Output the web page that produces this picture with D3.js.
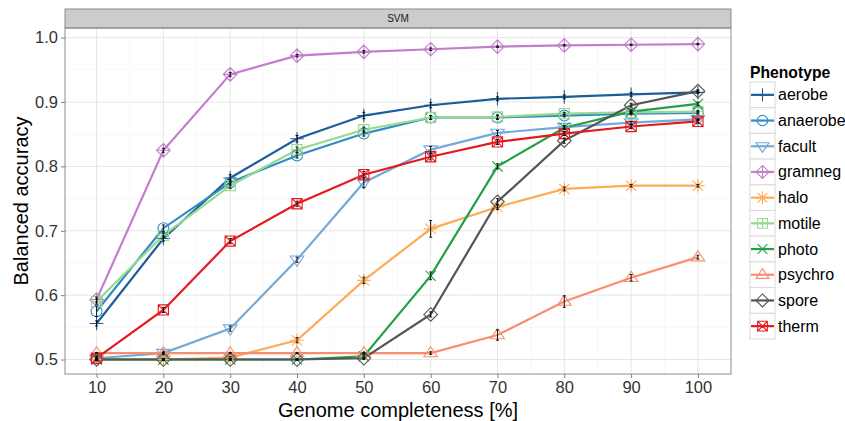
<!DOCTYPE html>
<html><head><meta charset="utf-8">
<script src="https://cdn.jsdelivr.net/npm/d3@7"></script>
<style>body{margin:0;background:#fff}svg{font-family:"Liberation Sans",Arial,sans-serif}</style>
</head><body><svg id="c" width="845" height="421"></svg>
<script>
const completeness = [10,20,30,40,50,60,70,80,90,100];
const phenotypes = ["aerobe","anaerobe","facult","gramneg","halo","motile","photo","psychro","spore","therm"];
const yTicks = [0.5,0.6,0.7,0.8,0.9,1.0];
const aerobe   = [0.556,0.688,0.782,0.843,0.879,0.895,0.905,0.908,0.912,0.915];
const anaerobe = [0.575,0.704,0.775,0.817,0.851,0.876,0.876,0.879,0.882,0.883];
const facult   = [0.502,0.510,0.548,0.655,0.775,0.826,0.852,0.861,0.868,0.873];
const gramneg  = [0.593,0.825,0.943,0.972,0.978,0.982,0.986,0.988,0.989,0.990];
const halo     = [0.500,0.500,0.503,0.530,0.623,0.703,0.737,0.765,0.770,0.770];
const motile   = [0.590,0.693,0.770,0.826,0.857,0.876,0.877,0.882,0.884,0.885];
const photo    = [0.500,0.500,0.500,0.500,0.505,0.630,0.800,0.860,0.885,0.897];
const psychro  = [0.510,0.510,0.510,0.510,0.510,0.510,0.538,0.590,0.627,0.659];
const spore    = [0.500,0.500,0.500,0.500,0.502,0.570,0.745,0.840,0.895,0.917];
const therm    = [0.502,0.577,0.684,0.742,0.787,0.815,0.838,0.851,0.862,0.870];
const aerobeErr   = [0.004,0.004,0.005,0.005,0.005,0.004,0.003,0.003,0.003,0.002];
const anaerobeErr = [0.008,0.005,0.004,0.004,0.004,0.003,0.003,0.002,0.002,0.002];
const facultErr   = [0.002,0.003,0.004,0.004,0.008,0.005,0.004,0.003,0.002,0.002];
const gramnegErr  = [0.004,0.003,0.003,0.002,0.002,0.002,0.001,0.001,0.001,0.001];
const haloErr     = [0.001,0.001,0.002,0.004,0.005,0.013,0.004,0.003,0.002,0.002];
const motileErr   = [0.004,0.004,0.004,0.004,0.004,0.003,0.003,0.002,0.002,0.002];
const photoErr    = [0.001,0.001,0.001,0.001,0.003,0.006,0.004,0.003,0.003,0.003];
const psychroErr  = [0.001,0.001,0.001,0.001,0.001,0.002,0.008,0.009,0.005,0.003];
const sporeErr    = [0.001,0.001,0.001,0.001,0.002,0.004,0.005,0.004,0.003,0.002];
const thermErr    = [0.004,0.004,0.004,0.004,0.005,0.005,0.004,0.003,0.003,0.003];

const seriesVals = {aerobe,anaerobe,facult,gramneg,halo,motile,photo,psychro,spore,therm};
const seriesErr = {aerobe:aerobeErr,anaerobe:anaerobeErr,facult:facultErr,gramneg:gramnegErr,halo:haloErr,motile:motileErr,photo:photoErr,psychro:psychroErr,spore:sporeErr,therm:thermErr};
const colors = {aerobe:"#1c5d99",anaerobe:"#2f8cc6",facult:"#74aad8",gramneg:"#c27dcc",halo:"#fdab57",motile:"#96da8e",photo:"#22a049",psychro:"#f98d70",spore:"#555555",therm:"#e41a1c"};
const shapes = {aerobe:"plus",anaerobe:"circle",facult:"tridown",gramneg:"diamondplus",halo:"asterisk",motile:"squareplus",photo:"cross",psychro:"triup",spore:"diamond",therm:"squarex"};

function shapePath(s, r){
  const p = d3.path();
  const plus=()=>{p.moveTo(-r,0);p.lineTo(r,0);p.moveTo(0,-r);p.lineTo(0,r);};
  const cross=()=>{const q=r*0.75;p.moveTo(-q,-q);p.lineTo(q,q);p.moveTo(-q,q);p.lineTo(q,-q);};
  const square=()=>{const q=r*0.75;p.moveTo(-q,-q);p.lineTo(q,-q);p.lineTo(q,q);p.lineTo(-q,q);p.closePath();};
  const diamond=()=>{p.moveTo(0,-r);p.lineTo(r,0);p.lineTo(0,r);p.lineTo(-r,0);p.closePath();};
  switch(s){
    case "plus": plus(); break;
    case "circle": p.moveTo(r*0.8,0); p.arc(0,0,r*0.8,0,2*Math.PI); break;
    case "tridown": p.moveTo(-r,-r*0.55);p.lineTo(r,-r*0.55);p.lineTo(0,r*0.95);p.closePath(); break;
    case "triup": p.moveTo(-r,r*0.55);p.lineTo(r,r*0.55);p.lineTo(0,-r*0.95);p.closePath(); break;
    case "diamondplus": diamond(); plus(); break;
    case "diamond": diamond(); break;
    case "asterisk": plus(); cross(); break;
    case "squareplus": square(); {const q=r*0.75;p.moveTo(-q,0);p.lineTo(q,0);p.moveTo(0,-q);p.lineTo(0,q);} break;
    case "cross": cross(); break;
    case "squarex": square(); {const q=r*0.75;p.moveTo(-q,-q);p.lineTo(q,q);p.moveTo(-q,q);p.lineTo(q,-q);} break;
  }
  return p.toString();
}

const svg = d3.select("#c");
const L=65, R=731, T=28, B=374;
const x = d3.scaleLinear().domain([5.5,104.5]).range([L+1.5,R-3]);
const y = d3.scaleLinear().domain([0.4775,1.015]).range([B,T]);

svg.append("rect").attr("x",L).attr("y",T).attr("width",R-L).attr("height",B-T).attr("fill","#fff");
const xMinor = completeness.slice(0,-1).map(v=>v+5);
const yMinor = [0.55,0.65,0.75,0.85,0.95];
const g = svg.append("g");
g.selectAll(".vxm").data(xMinor).join("line").attr("x1",d=>x(d)).attr("x2",d=>x(d)).attr("y1",T).attr("y2",B).attr("stroke","#f4f4f4").attr("stroke-width",0.6);
g.selectAll(".hym").data(yMinor).join("line").attr("y1",d=>y(d)).attr("y2",d=>y(d)).attr("x1",L).attr("x2",R).attr("stroke","#f4f4f4").attr("stroke-width",0.6);
g.selectAll(".vx").data(completeness).join("line").attr("x1",d=>x(d)).attr("x2",d=>x(d)).attr("y1",T).attr("y2",B).attr("stroke","#e6e6e6").attr("stroke-width",1);
g.selectAll(".hy").data(yTicks).join("line").attr("y1",d=>y(d)).attr("y2",d=>y(d)).attr("x1",L).attr("x2",R).attr("stroke","#e6e6e6").attr("stroke-width",1);

svg.append("rect").attr("x",L).attr("y",9).attr("width",R-L).attr("height",T-9).attr("fill","#cccccc").attr("stroke","#8c8c8c").attr("stroke-width",1);
svg.append("text").attr("x",(L+R)/2).attr("y",22).attr("text-anchor","middle").attr("font-size",10).attr("fill","#1a1a1a").text("SVM");

const lineGen = d3.line().x((d,i)=>x(completeness[i])).y(d=>y(d));
const plot = svg.append("g");
phenotypes.forEach(p=>{
  plot.append("path").datum(seriesVals[p]).attr("d",lineGen).attr("fill","none").attr("stroke",colors[p]).attr("stroke-width",2.2);
});
phenotypes.forEach(p=>{
  plot.append("g").selectAll("path").data(seriesVals[p]).join("path")
    .attr("transform",(d,i)=>`translate(${x(completeness[i])},${y(d)})`)
    .attr("d",shapePath(shapes[p],6.8)).attr("fill","none").attr("stroke",colors[p]).attr("stroke-width",1.1);
});
phenotypes.forEach(p=>{
  const vals=seriesVals[p], errs=seriesErr[p];
  const eg=plot.append("g").attr("stroke","#000").attr("stroke-width",0.9);
  vals.forEach((v,i)=>{
    const cx=x(completeness[i]), y1=y(v-errs[i]), y2=y(v+errs[i]);
    eg.append("line").attr("x1",cx).attr("x2",cx).attr("y1",y1).attr("y2",y2);
    eg.append("line").attr("x1",cx-1.5).attr("x2",cx+1.5).attr("y1",y1).attr("y2",y1);
    eg.append("line").attr("x1",cx-1.5).attr("x2",cx+1.5).attr("y1",y2).attr("y2",y2);
  });
});

svg.append("rect").attr("x",L).attr("y",T).attr("width",R-L).attr("height",B-T).attr("fill","none").attr("stroke","#8c8c8c").attr("stroke-width",1);

const xAxis = d3.axisBottom(x).tickValues(completeness).tickSize(4).tickPadding(3);
const xa = svg.append("g").attr("transform",`translate(0,${B})`).call(xAxis);
xa.select(".domain").remove();
xa.selectAll(".tick line").attr("stroke","#7f7f7f");
xa.selectAll(".tick text").attr("font-size",16.5).attr("fill","#333").attr("font-family","Liberation Sans, Arial, sans-serif");
const yAxis = d3.axisLeft(y).tickValues(yTicks).tickFormat(d3.format(".1f")).tickSize(4).tickPadding(3);
const ya = svg.append("g").attr("transform",`translate(${L},0)`).call(yAxis);
ya.select(".domain").remove();
ya.selectAll(".tick line").attr("stroke","#7f7f7f");
ya.selectAll(".tick text").attr("font-size",16.5).attr("fill","#333").attr("font-family","Liberation Sans, Arial, sans-serif");

svg.append("text").attr("x",(L+R)/2).attr("y",417).attr("text-anchor","middle").attr("font-size",20).attr("fill","#000").text("Genome completeness [%]");
svg.append("text").attr("transform",`translate(28,${(T+B)/2}) rotate(-90)`).attr("text-anchor","middle").attr("font-size",20).attr("fill","#000").text("Balanced accuracy");

const lg = svg.append("g");
lg.append("text").attr("x",750).attr("y",78).attr("font-size",15.7).attr("font-weight","bold").text("Phenotype");
const kh=25.7, k0=82;
phenotypes.forEach((p,i)=>{
  const ky=k0+i*kh;
  lg.append("rect").attr("x",750).attr("y",ky).attr("width",25).attr("height",kh).attr("fill","#fff").attr("stroke","#d9d9d9").attr("stroke-width",1);
  lg.append("line").attr("x1",751).attr("x2",774).attr("y1",ky+kh/2).attr("y2",ky+kh/2).attr("stroke",colors[p]).attr("stroke-width",2.2);
  lg.append("path").attr("transform",`translate(762.5,${ky+kh/2})`).attr("d",shapePath(shapes[p],6.5)).attr("fill","none").attr("stroke",colors[p]).attr("stroke-width",1.1);
  lg.append("text").attr("x",778).attr("y",ky+kh/2+5.5).attr("font-size",16).attr("fill","#000").text(p);
});
</script></body></html>
